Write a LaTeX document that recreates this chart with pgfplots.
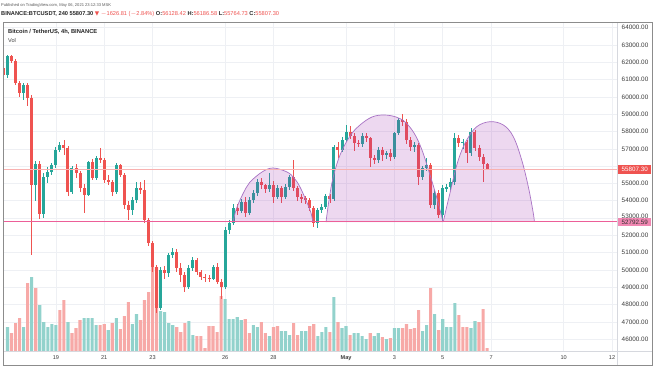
\documentclass[border=0pt]{standalone}
\usepackage{fontspec}
\setmainfont{Liberation Sans}
\newfontfamily\dejavu{DejaVu Sans}
\usepackage{pgfplots}
\usepackage{pgfplotstable}
\pgfplotsset{compat=1.18}

\definecolor{cgreen}{HTML}{26A69A}
\definecolor{cred}{HTML}{EF5350}
\definecolor{vgreen}{HTML}{92D2CC}
\definecolor{vred}{HTML}{F7A9A7}
\definecolor{gridc}{HTML}{EEF0F4}
\definecolor{arcline}{HTML}{A872C4}
\definecolor{arcfill}{HTML}{9C27B0}
\definecolor{pinkl}{HTML}{EC5F98}
\definecolor{framec}{HTML}{8C8C8C}
\definecolor{sepc}{HTML}{D6D8DE}
\definecolor{txt}{HTML}{3C3C3C}

\pgfplotstableread{
k o h l c
-1 61676 61850 61100 61271
0 61271 62430 61100 62369
1 62369 62430 61950 62080
2 62080 62200 60700 60809
3 60809 60950 60000 60231
4 60231 60800 59830 60693
5 60693 60800 59500 59942
6 59942 60100 50867 54913
7 54913 56300 54000 56127
8 56127 56300 52950 53237
9 53237 55600 53000 55375
10 55375 55950 55000 55664
11 55664 56200 55500 56069
12 56069 57100 55900 56936
13 56936 57400 56800 57225
14 57225 57500 56650 57052
15 57052 57150 54300 54508
16 54508 56000 54400 55896
17 55896 56100 55300 55607
18 55607 55700 54500 54740
19 54740 55000 53300 54335
20 54335 56300 54250 56242
21 56242 56400 55200 55318
22 55318 56600 55200 56474
23 56474 57052 56200 56358
24 56358 56500 55000 55202
25 55202 55500 54900 55086
26 55086 55200 54300 54508
27 54508 56200 54400 56069
28 56069 56150 55350 55491
29 55491 55600 53500 53757
30 53757 54000 52900 53468
31 53468 54200 53200 54046
32 54046 55100 53900 54740
33 54740 55100 54400 54624
34 54624 55202 52700 52890
35 52890 53000 51400 51561
36 51561 51700 49900 50173
37 50173 50300 47500 47804
38 47804 50200 47700 50000
39 50000 50250 49500 49827
40 49827 51000 49600 50867
41 50867 51300 50700 51040
42 51040 51200 49900 50116
43 50116 50400 49300 49711
44 49711 49900 48700 49017
45 49017 50300 48900 50116
46 50116 50750 49950 50578
47 50578 50700 49700 49884
48 49884 50000 49400 49595
49 49595 49750 49300 49538
50 49538 49700 49300 49480
51 49480 50300 49400 50173
52 50173 50400 49200 49306
53 49306 49500 48300 49017
54 49017 52500 48900 52312
55 52312 52900 52100 52717
56 52717 53800 52600 53584
57 53584 53800 53200 53400
58 53400 54100 53300 53930
59 53930 54200 53063 53295
60 53295 54200 53200 54046
61 54046 54600 53900 54451
62 54451 55250 54300 55086
63 55086 55300 54700 54913
64 54913 55000 54450 54682
65 54682 55607 54500 54913
66 54913 55150 53900 54219
67 54219 54900 54100 54740
68 54740 54850 53900 54219
69 54219 54950 54100 54797
70 54797 55500 54600 55375
71 55375 56358 54550 54740
72 54740 54850 54000 54219
73 54219 54400 53900 54162
74 54162 54300 53800 54046
75 54046 54150 53400 53584
76 53584 53700 52500 52717
77 52717 53600 52428 53468
78 53468 53800 53300 53641
79 53641 54400 53500 54277
80 54277 54400 53900 54104
81 54104 57250 54000 57109
82 57109 57400 56500 56936
83 56936 57700 56800 57514
84 57514 58400 57400 57976
85 57976 58300 57600 57745
86 57745 57900 56900 57341
87 57341 57500 57100 57300
88 57300 57900 57100 57745
89 57745 57900 57400 57630
90 57630 57700 55950 56474
91 56474 56650 56100 56358
92 56358 57100 56200 56936
93 56936 57100 56300 56647
94 56647 56900 56400 56763
95 56763 57000 56300 56531
96 56531 58000 56400 57919
97 57919 58800 57800 58670
98 58670 59017 58300 58554
99 58554 58700 57300 57514
100 57514 57700 56900 57109
101 57109 57400 56800 57225
102 57225 57350 54900 55375
103 55375 56000 55200 55896
104 55896 56500 55700 56069
105 56069 56200 53600 53757
106 53757 54600 53500 54451
107 54451 54600 53000 53179
108 53179 54900 52800 54740
109 54740 55000 54500 54797
110 54797 55300 54600 55086
111 55086 57900 54900 57630
112 57630 57800 57100 57341
113 57341 57600 57000 57400
114 57400 57500 56200 56763
115 56763 58208 56600 57976
116 57976 58100 56900 57052
117 57052 57200 56300 56531
118 56531 56700 55086 56128
119 56128 56187 55765 55807
}\candles

\pgfplotstableread{
k v d
0 24 1
1 18 0
2 28 0
3 33 0
4 24 1
5 68 0
6 74 1
7 63 0
8 46 1
9 29 1
10 24 1
11 27 1
12 26 1
13 41 0
14 51 0
15 29 1
16 18 0
17 23 0
18 31 0
19 33 1
20 33 1
21 33 1
22 26 1
23 26 0
24 27 0
25 21 1
26 28 0
27 33 1
28 22 0
29 35 0
30 49 0
31 27 1
32 37 1
33 31 0
34 51 0
35 59 0
36 84 0
37 84 0
38 40 1
39 39 1
40 28 1
41 26 1
42 24 0
43 19 0
44 28 0
45 30 1
46 16 1
47 15 0
48 15 0
49 3 0
50 25 0
51 25 0
52 19 0
53 55 0
54 52 1
55 32 1
56 32 1
57 34 1
58 31 1
59 32 0
60 18 0
61 26 1
62 24 1
63 29 0
64 18 0
65 15 1
66 24 0
67 25 0
68 20 1
69 20 1
70 16 1
71 28 0
72 16 0
73 20 1
74 20 1
75 25 0
76 27 0
77 15 1
78 19 1
79 24 1
80 19 0
81 54 1
82 29 0
83 23 1
84 25 1
85 16 0
86 18 1
87 18 1
88 15 1
89 12 1
90 18 0
91 15 1
92 18 1
93 14 0
94 12 1
95 13 0
96 23 1
97 23 1
98 23 0
99 27 0
100 22 0
101 23 0
102 41 0
103 20 1
104 26 1
105 63 0
106 37 1
107 21 0
108 32 1
109 24 1
110 24 1
111 48 1
112 36 0
113 24 0
114 24 0
115 23 1
116 30 1
117 29 0
118 42 0
119 3 0
}\vols

\pgfplotsset{
  chartpos/.style={at={(3bp,15bp)}, anchor=south west, scale only axis,
    width=614bp, height=329bp, xmin=-1.117, xmax=151.24},
  candle/.style n args={2}{draw=none, mark=none,
    /pgfplots/error bars/y dir=both, /pgfplots/error bars/y explicit,
    /pgfplots/error bars/error mark=none,
    /pgfplots/error bars/error bar style={draw=#1, line width=#2, solid}},
}

\begin{document}
\begin{tikzpicture}[x=1bp,y=1bp]
\useasboundingbox (0,0) rectangle (654,366);
\fill[white] (0,0) rectangle (654,366);

% frame axis with grid and ticks
\begin{axis}[chartpos,
  ymin=45318, ymax=64334,
  axis line style={draw=none},
  major tick length=0pt,
  scaled y ticks=false,
  grid=major, grid style={draw=gridc, line width=0.6bp},
  xtick={12,24,36,54,66,84,96,108,120,138,150},
  xticklabels={19,21,23,26,28,\textbf{May},3,5,7,10,12},
  xticklabel style={font=\fontsize{5.6}{6}\selectfont, text=txt, anchor=north, inner sep=0pt, yshift=-4.5bp},
  ytick={46000,47000,...,64000},
  yticklabels={46000.00,47000.00,48000.00,49000.00,50000.00,51000.00,52000.00,\raisebox{4.6bp}{53000.00},54000.00,55000.00,{},57000.00,58000.00,59000.00,60000.00,61000.00,62000.00,63000.00,64000.00},
  yticklabel pos=right,
  yticklabel style={font=\fontsize{6.4}{7}\selectfont, text=txt, anchor=west, inner sep=0pt, xshift=4.5bp},
]
\addplot[draw=none, forget plot] coordinates {(0,50000)};
\end{axis}

% volume axis
\begin{axis}[chartpos, ymin=0, ymax=329, hide axis, ybar, bar width=3.1bp]
\addplot[fill=vgreen, draw=none, bar shift=0pt, restrict expr to domain={\thisrow{d}}{0.5:1.5}] table[x=k, y=v] {\vols};
\addplot[fill=vred, draw=none, bar shift=0pt, restrict expr to domain={\thisrow{d}}{-0.5:0.5}] table[x=k, y=v] {\vols};
\end{axis}

% candle axis
\begin{axis}[chartpos, ymin=45318, ymax=64334, hide axis]
% wicks
\addplot[restrict expr to domain={\thisrow{c}-\thisrow{o}}{0:1e6}, candle={cgreen}{0.8bp}]
  table[x=k, y expr={(\thisrow{h}+\thisrow{l})/2}, y error expr={(\thisrow{h}-\thisrow{l})/2}] {\candles};
\addplot[restrict expr to domain={\thisrow{c}-\thisrow{o}}{-1e6:-0.001}, candle={cred}{0.8bp}]
  table[x=k, y expr={(\thisrow{h}+\thisrow{l})/2}, y error expr={(\thisrow{h}-\thisrow{l})/2}] {\candles};
% bodies
\addplot[restrict expr to domain={\thisrow{c}-\thisrow{o}}{0:1e6}, candle={cgreen}{3bp}]
  table[x=k, y expr={(\thisrow{o}+\thisrow{c})/2}, y error expr={max(abs(\thisrow{c}-\thisrow{o})/2,14)}] {\candles};
\addplot[restrict expr to domain={\thisrow{c}-\thisrow{o}}{-1e6:-0.001}, candle={cred}{3bp}]
  table[x=k, y expr={(\thisrow{o}+\thisrow{c})/2}, y error expr={max(abs(\thisrow{c}-\thisrow{o})/2,14)}] {\candles};
% arcs
\addplot[smooth, tension=0.6, draw=arcline, line width=0.7bp, fill=arcfill, fill opacity=0.18] coordinates {
(55.96,52774) (56.70,53468) (57.69,54046) (59.18,54740) (60.17,55086) (63.15,55664) (65.88,55896)
(69.36,55664) (71.09,55318) (72.58,54797) (74.57,53757) (75.31,53295) (75.81,52774)};
\addplot[smooth, tension=0.6, draw=arcline, line width=0.7bp, fill=arcfill, fill opacity=0.18] coordinates {
(79.03,52774) (79.78,54046) (80.77,55318) (82.51,56647) (84.99,57745) (87.47,58381) (90.45,58843)
(93.42,58959) (96.40,58843) (98.64,58554) (100.87,57919) (102.85,56936) (104.84,55491) (106.33,54335)
(107.32,53468) (108.06,52774)};
\addplot[smooth, tension=0.6, draw=arcline, line width=0.7bp, fill=arcfill, fill opacity=0.18] coordinates {
(108.14,52792) (108.98,53659) (109.80,54451) (111.04,55682) (112.28,56647) (113.95,57514) (116.43,58283)
(119.73,58572) (123.03,58381) (125.51,57705) (127.59,56358) (129.23,54815) (130.47,53277) (130.72,52792)};
% horizontal lines
\addplot[pinkl, line width=1.6bp] coordinates {(-2,52792.59) (153,52792.59)};
\addplot[cred!45, line width=0.6bp] coordinates {(-2,55807.30) (153,55807.30)};
\end{axis}

% frame and separators
\draw[sepc, line width=0.6bp] (617,1) -- (617,344);
\draw[sepc, line width=0.6bp] (3,15) -- (652,15);
\draw[framec, line width=0.9bp] (3,1) rectangle (652,344);

% price labels
\node[fill=cred, text=white, font=\fontsize{6.3}{7}\selectfont, inner sep=0pt, anchor=west,
  minimum width=33bp, minimum height=8.5bp] at (618,196.5) {55807.30};
\node[fill=pinkl!75, text=black!80, font=\fontsize{6.3}{7}\selectfont, inner sep=0pt, anchor=west,
  minimum width=33bp, minimum height=7.5bp] at (618,144.0) {52792.59};

% header texts
\node[anchor=west, inner sep=0pt, font=\fontsize{4.1}{5}\selectfont, text=black!65] at (1,361)
  {Published on TradingView.com, May 06, 2021 23:12:33 MSK};
\node[anchor=west, inner sep=0pt, font=\fontsize{5.7}{6}\selectfont, text=black!85] at (1,352)
  {\textbf{BINANCE:BTCUSDT, 240} \textbf{55807.30} {\color{cred}\dejavu ▼} {\color{cred}$-$1626.81 ($-$2.84\%)} \textbf{O:}{\color{cred}56128.42} \textbf{H:}{\color{cred}56186.58} \textbf{L:}{\color{cred}55764.73} \textbf{C:}{\color{cred}55807.30}};
\node[anchor=west, inner sep=0pt, font=\fontsize{5.8}{6}\selectfont\bfseries, text=black!85] at (8,334)
  {Bitcoin / TetherUS, 4h, BINANCE};
\node[anchor=west, inner sep=0pt, font=\fontsize{5.6}{6}\selectfont, text=black!75] at (8,325) {Vol};
\end{tikzpicture}
\end{document}
